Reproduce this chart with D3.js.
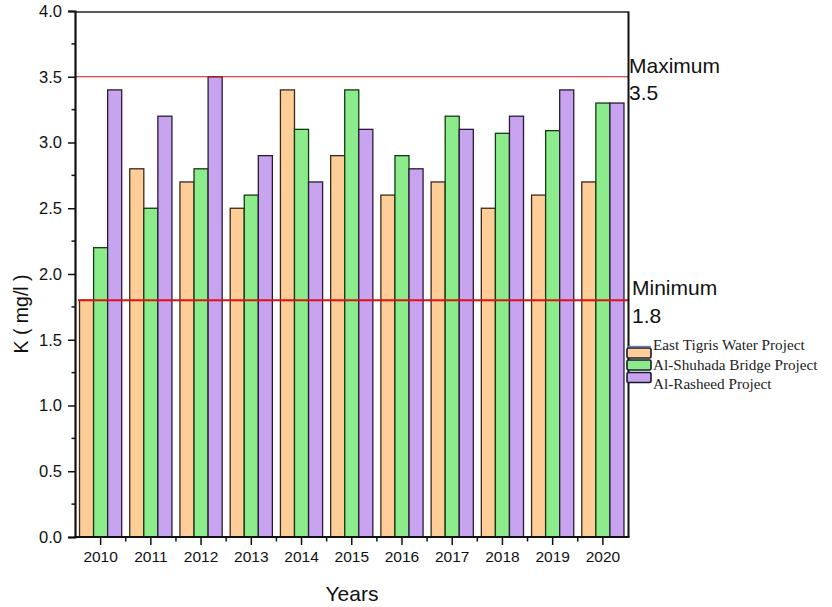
<!DOCTYPE html>
<html>
<head>
<meta charset="utf-8">
<script src="https://cdn.jsdelivr.net/npm/d3@7"></script>
<style>
  html, body { margin: 0; padding: 0; background: #fff; }
  svg { display: block; }
</style>
</head>
<body>
<svg id="chart" width="832" height="607"></svg>
<script>
// Potassium (K) concentration per year for three water projects
const years = ["2010","2011","2012","2013","2014","2015","2016","2017","2018","2019","2020"];
const seriesNames = ["East Tigris Water Project", "Al-Shuhada Bridge Project", "Al-Rasheed Project"];
const eastTigris = [1.8, 2.8, 2.7, 2.5, 3.4, 2.9, 2.6, 2.7, 2.5, 2.6, 2.7];
const alShuhada  = [2.2, 2.5, 2.8, 2.6, 3.1, 3.4, 2.9, 3.2, 3.07, 3.09, 3.3];
const alRasheed  = [3.4, 3.2, 3.5, 2.9, 2.7, 3.1, 2.8, 3.1, 3.2, 3.4, 3.3];
const yTicks = [0, 0.5, 1.0, 1.5, 2.0, 2.5, 3.0, 3.5, 4.0];
const limits = [
  { name: "Maximum", value: 3.5 },
  { name: "Minimum", value: 1.8 }
];

const fills   = ["#FFCD98", "#8CEC8C", "#C8A3F0"];
const strokes = ["#3a2a1a", "#123a12", "#2a1a3a"];
const allSeries = [eastTigris, alShuhada, alRasheed];
const sans = "Arial, 'Liberation Sans', sans-serif";

const svg = d3.select("#chart");
const plotL = 75, plotR = 628.5, plotT = 11, plotB = 537;

const x = d3.scaleBand().domain(years).range([plotL + 0.5, plotR - 0.5])
  .paddingInner(0.16).paddingOuter(0.08);
const xSub = d3.scaleBand().domain(d3.range(3)).range([0, x.bandwidth()]);
const y = d3.scaleLinear().domain([0, 4]).range([plotB, plotT]);

// bars
const groups = svg.append("g").selectAll("g").data(years).join("g")
  .attr("transform", d => `translate(${x(d)},0)`);
groups.selectAll("rect")
  .data((yr, i) => allSeries.map((s, k) => ({ k, v: s[i] })))
  .join("rect")
  .attr("x", d => xSub(d.k))
  .attr("y", d => y(d.v))
  .attr("width", xSub.bandwidth())
  .attr("height", d => plotB - y(d.v))
  .attr("fill", d => fills[d.k])
  .attr("stroke", d => strokes[d.k])
  .attr("stroke-width", 1.3);

// limit lines
svg.append("line").attr("x1", plotL).attr("x2", plotR)
  .attr("y1", y(limits[0].value)).attr("y2", y(limits[0].value))
  .attr("stroke", "#d81010").attr("stroke-width", 1.2);
svg.append("line").attr("x1", plotL + 3).attr("x2", plotR)
  .attr("y1", y(limits[1].value)).attr("y2", y(limits[1].value))
  .attr("stroke", "#e01010").attr("stroke-width", 2);

// limit labels
const limG = svg.append("g").attr("font-family", sans)
  .attr("font-size", 21).attr("fill", "#111");
limG.append("text").attr("x", 629).attr("y", 73).text(limits[0].name);
limG.append("text").attr("x", 629).attr("y", 100).text(d3.format(".1f")(limits[0].value));
limG.append("text").attr("x", 632).attr("y", 295).text(limits[1].name);
limG.append("text").attr("x", 632).attr("y", 323).text(d3.format(".1f")(limits[1].value));

// frame
svg.append("line").attr("x1", plotL).attr("x2", plotR).attr("y1", plotT + 1).attr("y2", plotT + 1)
  .attr("stroke", "#222").attr("stroke-width", 1.3);
svg.append("line").attr("x1", plotR).attr("x2", plotR).attr("y1", plotT + 0.5).attr("y2", plotB)
  .attr("stroke", "#111").attr("stroke-width", 2);

// y axis
const yAxis = d3.axisLeft(y).tickValues(yTicks).tickFormat(d3.format(".1f"))
  .tickSize(7).tickPadding(6);
const yG = svg.append("g").attr("transform", `translate(${plotL},0)`).call(yAxis);
yG.select(".domain").attr("stroke", "#111").attr("stroke-width", 2.2);
yG.selectAll(".tick line").attr("stroke", "#111").attr("stroke-width", 1.5);
yG.selectAll("text").attr("font-family", sans)
  .attr("font-size", 16.5).attr("fill", "#111");
// minor y ticks
const yMinor = d3.range(0.25, 4, 0.5);
svg.append("g").selectAll("line").data(yMinor).join("line")
  .attr("x1", plotL - 3.5).attr("x2", plotL).attr("y1", d => y(d)).attr("y2", d => y(d))
  .attr("stroke", "#111").attr("stroke-width", 1.5);

// x axis
const xAxis = d3.axisBottom(x).tickSize(8).tickPadding(6);
const xG = svg.append("g").attr("transform", `translate(0,${plotB})`).call(xAxis);
xG.select(".domain").remove();
xG.selectAll(".tick line").attr("stroke", "#111").attr("stroke-width", 1.5);
xG.selectAll("text").attr("font-family", sans)
  .attr("font-size", 15.5).attr("fill", "#111");
svg.append("line").attr("x1", plotL - 1).attr("x2", plotR + 1).attr("y1", plotB).attr("y2", plotB)
  .attr("stroke", "#111").attr("stroke-width", 2.2);
// minor x ticks at group boundaries
const step = x.step();
const xMinor = years.slice(0, -1).map(yr => x(yr) + x.bandwidth() / 2 + step / 2);
svg.append("g").selectAll("line").data(xMinor).join("line")
  .attr("x1", d => d).attr("x2", d => d).attr("y1", plotB).attr("y2", plotB + 4.5)
  .attr("stroke", "#111").attr("stroke-width", 1.5);

// axis titles
svg.append("text").attr("x", 352).attr("y", 601).attr("text-anchor", "middle")
  .attr("font-family", sans).attr("font-size", 21)
  .attr("fill", "#111").text("Years");
svg.append("text").attr("transform", "translate(28,314) rotate(-90)").attr("text-anchor", "middle")
  .attr("font-family", sans).attr("font-size", 19.5)
  .attr("fill", "#111").text("K ( mg/l )");

// legend
const legend = svg.append("g");
const swY = [348, 360, 372.5];
const txY = [350, 370, 389];
seriesNames.forEach((name, k) => {
  legend.append("rect").attr("x", 627).attr("y", swY[k]).attr("width", 24).attr("height", 10)
    .attr("rx", 1.5).attr("fill", fills[k]).attr("stroke", "#1a1a2a").attr("stroke-width", 1.6);
  legend.append("text").attr("x", 653).attr("y", txY[k])
    .attr("font-family", "'Liberation Serif', 'Times New Roman', serif")
    .attr("font-size", 15.2).attr("fill", "#222").text(name);
});
legend.append("line").attr("x1", 627).attr("x2", 651).attr("y1", 346.5).attr("y2", 346.5)
  .attr("stroke", "#5a7fb0").attr("stroke-width", 1.3);
</script>
</body>
</html>
